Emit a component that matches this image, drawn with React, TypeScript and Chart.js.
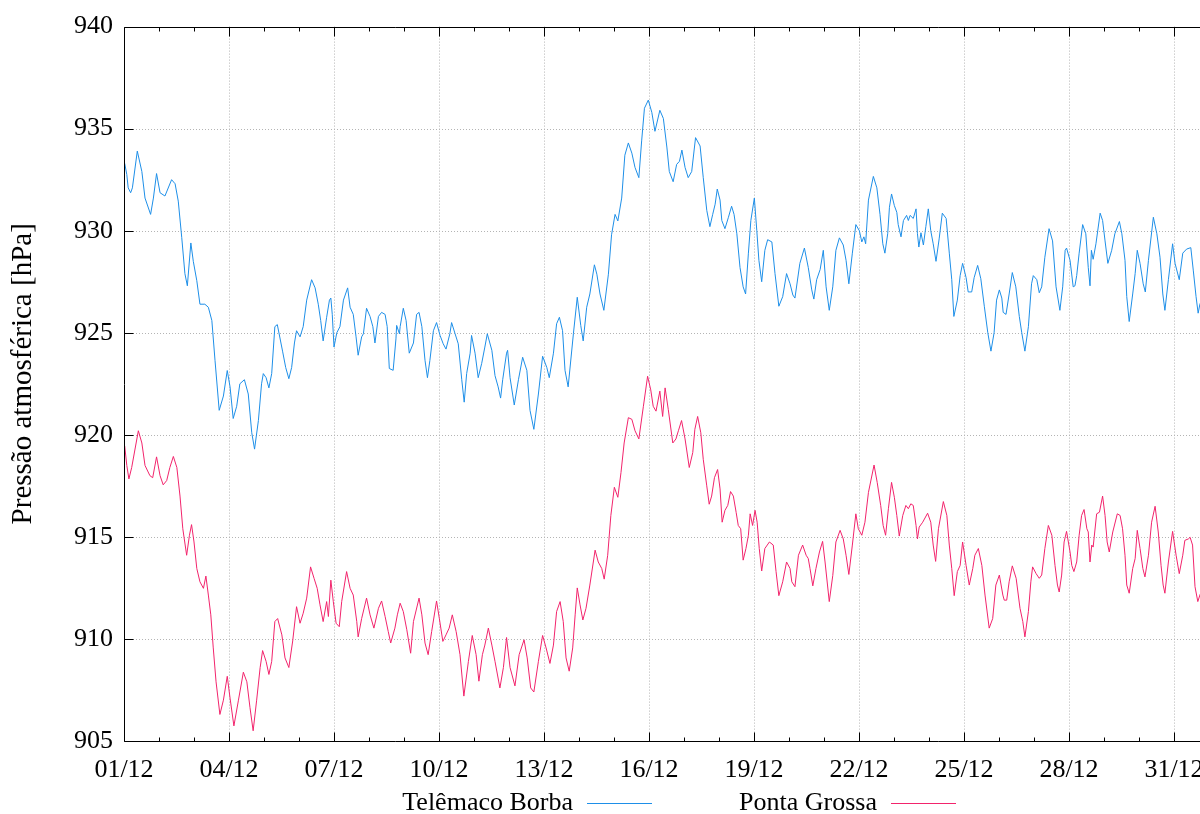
import React, { useEffect, useRef } from "react";
import { Chart, registerables } from "chart.js";

Chart.register(...registerables);

// Day offsets (days since 01/12 00:00) and pressure (hPa) — Telêmaco Borba
const tbDays = [
  0.02, 0.08, 0.12, 0.19, 0.24, 0.38, 0.51, 0.6, 0.76, 0.84, 0.93, 1.03, 1.17, 1.36, 1.46, 1.55, 1.65, 1.74, 1.81, 1.91,
  1.98, 2.08, 2.17, 2.31, 2.41, 2.51, 2.6, 2.72, 2.84, 2.95, 3.03, 3.12, 3.22, 3.31, 3.44, 3.55, 3.65, 3.73, 3.84, 3.93,
  3.98, 4.06, 4.14, 4.22, 4.31, 4.38, 4.53, 4.62, 4.71, 4.79, 4.87, 4.93, 5.03, 5.12, 5.22, 5.36, 5.46, 5.55, 5.62, 5.69,
  5.79, 5.87, 5.91, 5.95, 6.0, 6.08, 6.17, 6.27, 6.39, 6.46, 6.55, 6.63, 6.69, 6.79, 6.84, 6.93, 7.03, 7.11, 7.17, 7.27,
  7.36, 7.46, 7.52, 7.58, 7.69, 7.77, 7.79, 7.87, 7.89, 7.98, 8.06, 8.15, 8.27, 8.36, 8.43, 8.51, 8.6, 8.67, 8.74, 8.84,
  8.93, 9.03, 9.12, 9.2, 9.31, 9.36, 9.46, 9.55, 9.65, 9.72, 9.79, 9.89, 9.93, 10.03, 10.12, 10.22, 10.31, 10.38, 10.51, 10.6,
  10.69, 10.76, 10.82, 10.93, 10.96, 11.03, 11.15, 11.27, 11.39, 11.51, 11.6, 11.71, 11.84, 11.96, 12.08, 12.15, 12.27, 12.36, 12.44, 12.53,
  12.6, 12.69, 12.84, 12.95, 13.05, 13.12, 13.22, 13.31, 13.44, 13.51, 13.6, 13.71, 13.84, 13.93, 14.03, 14.11, 14.22, 14.31, 14.41, 14.51,
  14.6, 14.71, 14.79, 14.87, 14.98, 15.08, 15.17, 15.31, 15.41, 15.51, 15.58, 15.69, 15.79, 15.87, 15.94, 16.03, 16.12, 16.22, 16.33, 16.46,
  16.55, 16.65, 16.74, 16.82, 16.89, 16.95, 17.03, 17.08, 17.17, 17.27, 17.36, 17.43, 17.51, 17.6, 17.69, 17.76, 17.84, 17.91, 18.01, 18.08,
  18.14, 18.22, 18.31, 18.39, 18.51, 18.6, 18.71, 18.82, 18.93, 19.03, 19.11, 19.17, 19.31, 19.44, 19.55, 19.65, 19.71, 19.79, 19.89, 19.98,
  20.06, 20.15, 20.25, 20.34, 20.44, 20.55, 20.63, 20.71, 20.81, 20.91, 21.01, 21.08, 21.14, 21.19, 21.27, 21.41, 21.51, 21.6, 21.68, 21.74,
  21.82, 21.87, 21.93, 22.01, 22.08, 22.12, 22.2, 22.27, 22.36, 22.41, 22.46, 22.55, 22.63, 22.67, 22.71, 22.77, 22.84, 22.91, 22.98, 23.05,
  23.12, 23.2, 23.29, 23.38, 23.49, 23.58, 23.65, 23.71, 23.81, 23.89, 23.96, 24.06, 24.12, 24.22, 24.29, 24.39, 24.48, 24.58, 24.68, 24.77,
  24.86, 24.93, 25.01, 25.08, 25.12, 25.2, 25.29, 25.38, 25.48, 25.58, 25.65, 25.74, 25.84, 25.93, 25.98, 26.08, 26.15, 26.22, 26.31, 26.43,
  26.53, 26.63, 26.74, 26.82, 26.89, 26.93, 27.03, 27.12, 27.17, 27.22, 27.29, 27.39, 27.48, 27.55, 27.6, 27.64, 27.69, 27.77, 27.89, 27.96,
  28.03, 28.11, 28.22, 28.31, 28.44, 28.51, 28.6, 28.65, 28.72, 28.82, 28.89, 28.95, 29.03, 29.12, 29.18, 29.27, 29.41, 29.51, 29.6, 29.68,
  29.74, 29.84, 29.96, 30.03, 30.15, 30.25, 30.36, 30.48, 30.55, 30.63, 30.69, 30.74, 30.85
];
const tbPressure = [
  933.3, 932.75, 932.1, 931.86, 932.1, 933.9, 932.9, 931.6, 930.8, 931.6, 932.8, 931.86, 931.7, 932.5, 932.3, 931.45, 929.66, 927.9, 927.3, 929.4,
  928.5, 927.55, 926.4, 926.4, 926.25, 925.6, 923.65, 921.2, 921.9, 923.15, 922.35, 920.8, 921.4, 922.5, 922.7, 922.0, 920.1, 919.3, 920.7, 922.5,
  923.0, 922.8, 922.3, 923.0, 925.3, 925.4, 924.1, 923.3, 922.75, 923.3, 924.5, 925.1, 924.8, 925.3, 926.6, 927.6, 927.2, 926.4, 925.6, 924.6,
  925.76, 926.6, 926.7, 925.9, 924.3, 925.0, 925.3, 926.6, 927.2, 926.25, 925.9, 924.8, 923.9, 924.8, 924.95, 926.2, 925.8, 925.3, 924.5, 925.8,
  926.0, 925.9, 925.3, 923.25, 923.16, 924.7, 925.36, 924.95, 925.3, 926.2, 925.6, 924.0, 924.5, 925.9, 926.0, 925.3, 923.65, 922.8, 923.65, 925.1,
  925.5, 924.87, 924.46, 924.2, 924.95, 925.5, 924.95, 924.46, 922.7, 921.6, 923.0, 924.0, 924.87, 924.0, 922.8, 923.5, 924.3, 924.95, 924.14, 922.9,
  922.35, 921.8, 922.7, 924.0, 924.14, 922.8, 921.46, 922.7, 923.8, 923.16, 921.2, 920.27, 922.0, 923.85, 923.3, 922.8, 924.0, 925.44, 925.76, 925.1,
  923.16, 922.35, 924.95, 926.74, 925.36, 924.6, 926.25, 926.9, 928.33, 927.87, 926.9, 926.1, 927.87, 929.8, 930.8, 930.48, 931.6, 933.7, 934.3, 933.8,
  933.1, 932.6, 934.4, 936.0, 936.4, 935.8, 934.87, 935.9, 935.5, 934.1, 932.9, 932.4, 933.25, 933.4, 933.95, 933.1, 932.6, 932.9, 934.56, 934.15,
  932.6, 931.0, 930.2, 930.8, 931.3, 932.04, 931.5, 930.5, 930.1, 930.66, 931.2, 930.8, 929.85, 928.2, 927.25, 926.9, 928.9, 930.5, 931.6, 930.0,
  928.55, 927.5, 929.04, 929.56, 929.45, 927.9, 926.3, 926.77, 927.9, 927.4, 926.85, 926.7, 928.4, 929.15, 928.2, 927.1, 926.65, 927.6, 928.1, 929.04,
  927.25, 926.1, 927.25, 929.04, 929.65, 929.3, 928.55, 927.4, 928.9, 930.3, 930.0, 929.45, 929.7, 929.36, 931.5, 932.66, 932.1, 930.8, 929.36, 928.9,
  929.85, 931.15, 931.8, 931.23, 930.9, 930.3, 929.7, 930.5, 930.75, 930.5, 930.75, 930.6, 931.07, 929.85, 929.2, 929.9, 929.3, 930.2, 931.07, 930.0,
  929.36, 928.5, 929.6, 930.86, 930.6, 928.9, 927.6, 925.8, 926.6, 927.8, 928.4, 927.7, 927.0, 927.0, 927.7, 928.3, 927.65, 926.3, 925.0, 924.1,
  925.0, 926.6, 927.1, 926.7, 926.0, 925.9, 926.9, 927.95, 927.25, 925.8, 925.0, 924.1, 925.3, 927.4, 927.8, 927.6, 926.96, 927.25, 928.7, 930.1,
  929.5, 927.25, 926.1, 927.25, 929.04, 929.15, 928.55, 927.25, 927.3, 927.8, 928.9, 930.3, 929.85, 928.2, 927.3, 929.04, 928.6, 929.36, 930.86, 930.5,
  929.5, 928.4, 929.04, 929.85, 930.45, 929.85, 928.55, 926.77, 925.55, 926.9, 927.9, 929.04, 928.4, 927.4, 927.0, 928.55, 930.66, 929.85, 928.7, 926.9,
  926.1, 927.6, 929.36, 928.4, 927.6, 928.9, 929.1, 929.17, 928.07, 926.77, 925.96, 926.4, 926.8
];

// Ponta Grossa
const pgDays = [
  0.02, 0.08, 0.14, 0.22, 0.41, 0.51, 0.6, 0.74, 0.82, 0.93, 1.03, 1.12, 1.22, 1.31, 1.41, 1.51, 1.6, 1.68, 1.79, 1.87,
  1.93, 2.0, 2.08, 2.17, 2.27, 2.34, 2.41, 2.48, 2.55, 2.63, 2.74, 2.84, 2.95, 3.03, 3.14, 3.27, 3.41, 3.51, 3.6, 3.69,
  3.79, 3.89, 3.96, 4.06, 4.14, 4.22, 4.31, 4.39, 4.51, 4.6, 4.71, 4.82, 4.93, 5.03, 5.12, 5.22, 5.33, 5.43, 5.52, 5.6,
  5.69, 5.79, 5.84, 5.91, 5.98, 6.06, 6.15, 6.22, 6.36, 6.46, 6.55, 6.65, 6.69, 6.79, 6.93, 7.03, 7.14, 7.27, 7.36, 7.46,
  7.55, 7.62, 7.74, 7.81, 7.89, 7.98, 8.08, 8.19, 8.27, 8.43, 8.51, 8.6, 8.69, 8.79, 8.93, 9.01, 9.11, 9.2, 9.29, 9.38,
  9.49, 9.6, 9.71, 9.84, 9.95, 10.06, 10.14, 10.24, 10.31, 10.41, 10.51, 10.6, 10.74, 10.84, 10.93, 11.03, 11.17, 11.29, 11.43, 11.52,
  11.62, 11.71, 11.84, 11.96, 12.06, 12.17, 12.27, 12.36, 12.46, 12.55, 12.63, 12.72, 12.82, 12.89, 12.95, 13.03, 13.11, 13.2, 13.31, 13.46,
  13.55, 13.65, 13.72, 13.82, 13.91, 14.01, 14.11, 14.2, 14.29, 14.41, 14.51, 14.6, 14.71, 14.84, 14.96, 15.05, 15.12, 15.2, 15.31, 15.39,
  15.46, 15.55, 15.68, 15.77, 15.84, 15.93, 16.03, 16.15, 16.25, 16.31, 16.39, 16.48, 16.55, 16.65, 16.72, 16.79, 16.87, 16.96, 17.03, 17.09,
  17.17, 17.25, 17.33, 17.41, 17.49, 17.55, 17.62, 17.69, 17.77, 17.84, 17.89, 17.96, 18.03, 18.09, 18.15, 18.22, 18.31, 18.44, 18.55, 18.63,
  18.71, 18.82, 18.93, 19.03, 19.08, 19.17, 19.27, 19.39, 19.49, 19.55, 19.6, 19.68, 19.77, 19.87, 19.96, 20.03, 20.15, 20.25, 20.34, 20.46,
  20.55, 20.63, 20.71, 20.81, 20.91, 20.98, 21.08, 21.17, 21.27, 21.43, 21.52, 21.62, 21.69, 21.76, 21.84, 21.93, 22.01, 22.08, 22.15, 22.25,
  22.34, 22.41, 22.48, 22.55, 22.63, 22.67, 22.72, 22.82, 22.96, 23.05, 23.12, 23.19, 23.27, 23.41, 23.51, 23.58, 23.65, 23.72, 23.81, 23.89,
  23.96, 24.06, 24.15, 24.25, 24.31, 24.41, 24.51, 24.6, 24.72, 24.82, 24.91, 25.01, 25.11, 25.15, 25.22, 25.29, 25.38, 25.49, 25.6, 25.68,
  25.74, 25.84, 25.91, 25.96, 26.06, 26.15, 26.22, 26.31, 26.41, 26.51, 26.6, 26.67, 26.72, 26.79, 26.86, 26.93, 27.03, 27.08, 27.14, 27.22,
  27.29, 27.36, 27.43, 27.51, 27.55, 27.6, 27.65, 27.69, 27.79, 27.87, 27.96, 28.03, 28.09, 28.15, 28.25, 28.38, 28.46, 28.53, 28.6, 28.65,
  28.72, 28.82, 28.89, 28.95, 29.03, 29.11, 29.17, 29.27, 29.36, 29.46, 29.55, 29.63, 29.69, 29.74, 29.84, 29.96, 30.06, 30.15, 30.25, 30.31,
  30.41, 30.46, 30.53, 30.6, 30.68, 30.74, 30.85
];
const pgPressure = [
  919.46, 918.5, 917.84, 918.4, 920.2, 919.6, 918.5, 918.0, 917.9, 918.92, 918.0, 917.55, 917.76, 918.4, 918.94, 918.4, 917.0, 915.4, 914.1, 915.08,
  915.6, 914.75, 913.45, 912.8, 912.48, 913.08, 912.15, 911.18, 909.56, 907.9, 906.3, 907.0, 908.17, 907.1, 905.74, 907.0, 908.37, 907.9, 906.63, 905.5,
  907.0, 908.6, 909.43, 908.9, 908.26, 908.9, 910.85, 911.0, 910.2, 909.07, 908.6, 909.9, 911.58, 910.77, 911.26, 912.0, 913.53, 912.97, 912.48, 911.67,
  910.85, 911.83, 911.1, 912.88, 911.83, 910.77, 910.6, 911.83, 913.3, 912.48, 912.15, 910.85, 910.1, 911.0, 912.0, 911.18, 910.53, 911.5, 911.86, 911.1,
  910.36, 909.8, 910.53, 911.18, 911.75, 911.34, 910.45, 909.3, 910.85, 912.0, 911.18, 909.8, 909.23, 910.36, 911.86, 911.0, 909.88, 910.2, 910.53, 911.18,
  910.36, 909.23, 907.2, 908.9, 910.17, 909.23, 907.93, 909.23, 909.7, 910.53, 909.7, 908.9, 907.6, 908.6, 910.07, 908.6, 907.7, 909.23, 909.96, 909.07,
  907.6, 907.4, 908.9, 910.17, 909.56, 908.8, 909.7, 911.34, 911.83, 910.85, 909.07, 908.42, 909.56, 911.18, 912.5, 911.67, 910.93, 911.5, 912.64, 914.35,
  913.77, 913.45, 912.93, 914.1, 916.05, 917.43, 916.94, 918.16, 919.6, 920.84, 920.76, 920.2, 919.8, 921.4, 922.87, 922.2, 921.4, 921.16, 922.14, 920.9,
  922.3, 921.25, 919.6, 919.8, 920.2, 920.7, 919.8, 918.4, 919.13, 920.27, 920.9, 920.1, 918.8, 917.5, 916.6, 917.0, 917.9, 918.3, 917.35, 915.72,
  916.3, 916.54, 917.22, 917.0, 916.2, 915.56, 915.4, 913.86, 914.43, 915.08, 916.13, 915.56, 916.3, 915.72, 914.43, 913.33, 914.43, 914.75, 914.6, 913.3,
  912.12, 912.8, 913.77, 913.45, 912.8, 912.56, 914.1, 914.6, 914.1, 913.94, 913.45, 912.6, 913.45, 914.26, 914.78, 913.77, 911.83, 913.1, 914.75, 915.32,
  914.9, 914.1, 913.16, 914.6, 916.13, 915.4, 915.08, 915.72, 917.18, 918.52, 917.67, 916.54, 915.56, 915.08, 916.38, 917.67, 916.94, 916.05, 915.04, 916.05,
  916.54, 916.38, 916.62, 916.54, 915.56, 914.9, 915.48, 915.72, 916.16, 915.72, 914.6, 913.8, 915.4, 916.73, 916.05, 914.6, 913.45, 912.12, 913.3, 913.6,
  914.75, 913.6, 912.64, 913.45, 914.1, 914.43, 913.6, 912.15, 910.53, 911.0, 912.64, 913.13, 912.15, 911.9, 911.9, 912.8, 913.58, 912.97, 911.5, 910.85,
  910.1, 911.34, 912.8, 913.53, 913.2, 912.97, 913.13, 914.43, 915.56, 915.08, 913.6, 912.64, 912.3, 913.13, 914.75, 915.27, 914.26, 913.6, 913.3, 913.77,
  915.08, 916.05, 916.34, 915.4, 915.24, 913.77, 914.6, 914.5, 916.13, 916.21, 917.0, 916.05, 914.75, 914.26, 915.24, 916.13, 916.05, 915.4, 914.1, 912.64,
  912.24, 913.45, 913.94, 915.32, 914.43, 913.45, 913.04, 914.1, 915.72, 916.5, 915.24, 913.6, 912.64, 912.24, 913.77, 915.27, 914.1, 913.2, 914.1, 914.83,
  914.9, 914.98, 914.6, 912.56, 911.83, 912.15, 912.6
];

const seriesNames = ["Telêmaco Borba", "Ponta Grossa"];
const seriesColors = ["#1e8fe8", "#f2246c"];
const dayLabels = [
  "01/12", "02/12", "03/12", "04/12", "05/12", "06/12", "07/12", "08/12", "09/12", "10/12", "11/12",
  "12/12", "13/12", "14/12", "15/12", "16/12", "17/12", "18/12", "19/12", "20/12", "21/12", "22/12",
  "23/12", "24/12", "25/12", "26/12", "27/12", "28/12", "29/12", "30/12", "31/12", "01/01"
];
const xLabelDays = [0, 3, 6, 9, 12, 15, 18, 21, 24, 27, 30];
const yTickValues = [905, 910, 915, 920, 925, 930, 935, 940];
const yAxisTitle = "Pressão atmosférica [hPa]";
const yMin = 905;
const yMax = 940;
const xMin = 0;
const xMax = 31;

const FONT = "'Liberation Serif', 'Times New Roman', serif";
const FONT_SIZE = 26;
const TITLE_FONT_SIZE = 29;

const framePlugin = {
  id: "gnuplotFrame",
  beforeDatasetsDraw(chart: any) {
    const { ctx, chartArea: a, scales } = chart;
    const x = scales.x;
    const y = scales.y;
    ctx.save();
    ctx.strokeStyle = "#b4b4b4";
    ctx.lineWidth = 1;
    ctx.setLineDash([1, 2]);
    xLabelDays.forEach((d) => {
      if (d <= xMin || d >= xMax) return;
      const px = Math.round(x.getPixelForValue(d)) + 0.5;
      ctx.beginPath();
      ctx.moveTo(px, a.top);
      ctx.lineTo(px, a.bottom);
      ctx.stroke();
    });
    yTickValues.forEach((v) => {
      if (v <= yMin || v >= yMax) return;
      const py = Math.round(y.getPixelForValue(v)) + 0.5;
      ctx.beginPath();
      ctx.moveTo(a.left, py);
      ctx.lineTo(a.right, py);
      ctx.stroke();
    });
    ctx.restore();
  },
  afterDatasetsDraw(chart: any) {
    const { ctx, chartArea: a, scales } = chart;
    const x = scales.x;
    const y = scales.y;
    ctx.save();
    ctx.setLineDash([]);
    ctx.strokeStyle = "#000000";
    ctx.lineWidth = 1;
    const L = Math.round(a.left) + 0.5;
    const T = Math.round(a.top) + 0.5;
    const B = Math.round(a.bottom) + 0.5;
    const R = Math.round(a.right) + 0.5;
    ctx.beginPath();
    ctx.moveTo(R, T);
    ctx.lineTo(L, T);
    ctx.lineTo(L, B);
    ctx.lineTo(R, B);
    ctx.stroke();
    // x ticks: one per day, longer at labelled days (inward, mirrored on top)
    for (let d = xMin; d <= xMax; d += 1) {
      const px = Math.round(x.getPixelForValue(d)) + 0.5;
      const len = xLabelDays.includes(d) ? 9 : 4;
      ctx.beginPath();
      ctx.moveTo(px, B);
      ctx.lineTo(px, B - len);
      ctx.moveTo(px, T);
      ctx.lineTo(px, T + len);
      ctx.stroke();
    }
    yTickValues.forEach((v) => {
      const py = Math.round(y.getPixelForValue(v)) + 0.5;
      ctx.beginPath();
      ctx.moveTo(L, py);
      ctx.lineTo(L + 9, py);
      ctx.stroke();
    });
    ctx.restore();
  },
  afterDraw(chart: any) {
    const { ctx, chartArea: a } = chart;
    ctx.save();
    ctx.fillStyle = "#000000";
    ctx.font = `${TITLE_FONT_SIZE}px ${FONT}`;
    ctx.textAlign = "center";
    ctx.textBaseline = "middle";
    ctx.translate(23, (a.top + a.bottom) / 2 - 10);
    ctx.rotate(-Math.PI / 2);
    ctx.fillText(yAxisTitle, 0, 0);
    ctx.restore();
    // legend: text then line sample (gnuplot style)
    ctx.save();
    ctx.font = `${FONT_SIZE}px ${FONT}`;
    ctx.textAlign = "right";
    ctx.textBaseline = "middle";
    const ly = 803;
    const textEnds = [573, 877];
    chart.data.datasets.forEach((ds: any, i: number) => {
      ctx.fillStyle = "#000000";
      ctx.fillText(ds.label, textEnds[i], ly);
      ctx.strokeStyle = ds.borderColor;
      ctx.lineWidth = 1;
      ctx.beginPath();
      ctx.moveTo(textEnds[i] + 14, ly + 0.5);
      ctx.lineTo(textEnds[i] + 79, ly + 0.5);
      ctx.stroke();
    });
    ctx.restore();
  },
};

export default function App() {
  const canvasRef = useRef<HTMLCanvasElement | null>(null);

  useEffect(() => {
    const canvas = canvasRef.current;
    if (!canvas) return;
    const toPoints = (xs: number[], ys: number[]) => xs.map((d, i) => ({ x: d, y: ys[i] }));
    const chart = new Chart(canvas, {
      type: "line",
      data: {
        datasets: [
          {
            label: seriesNames[0],
            data: toPoints(tbDays, tbPressure),
            borderColor: seriesColors[0],
            borderWidth: 1,
            pointRadius: 0,
            tension: 0,
            fill: false,
          },
          {
            label: seriesNames[1],
            data: toPoints(pgDays, pgPressure),
            borderColor: seriesColors[1],
            borderWidth: 1,
            pointRadius: 0,
            tension: 0,
            fill: false,
          },
        ],
      },
      options: {
        animation: false,
        responsive: false,
        maintainAspectRatio: false,
        devicePixelRatio: 1,
        events: [],
        layout: { padding: { left: 0, top: 23, right: 31, bottom: 33 } },
        plugins: {
          legend: { display: false },
          tooltip: { enabled: false },
          title: { display: false },
        },
        scales: {
          x: {
            type: "linear",
            min: xMin,
            max: xMax,
            grid: { display: false, drawTicks: false },
            border: { display: false },
            afterBuildTicks: (s: any) => {
              s.ticks = xLabelDays.map((d) => ({ value: d }));
            },
            afterFit: (s: any) => {
              s.height = 40;
            },
            ticks: {
              autoSkip: false,
              maxRotation: 0,
              padding: 14,
              color: "#000000",
              font: { family: FONT, size: FONT_SIZE },
              callback: (v: any) => dayLabels[Math.round(Number(v))] ?? "",
            },
          },
          y: {
            type: "linear",
            min: yMin,
            max: yMax,
            grid: { display: false, drawTicks: false },
            border: { display: false },
            afterBuildTicks: (s: any) => {
              s.ticks = yTickValues.map((v) => ({ value: v }));
            },
            afterFit: (s: any) => {
              s.width = 124;
            },
            ticks: {
              padding: 11,
              color: "#000000",
              font: { family: FONT, size: FONT_SIZE },
              callback: (v: any) => String(v),
            },
          },
        },
      },
      plugins: [framePlugin],
    });
    return () => chart.destroy();
  }, []);

  return (
    <div
      style={{
        position: "fixed",
        left: 0,
        top: 0,
        width: 1200,
        height: 814,
        overflow: "hidden",
        background: "#ffffff",
      }}
    >
      <canvas ref={canvasRef} width={1240} height={814} style={{ display: "block", width: 1240, height: 814 }} />
    </div>
  );
}
